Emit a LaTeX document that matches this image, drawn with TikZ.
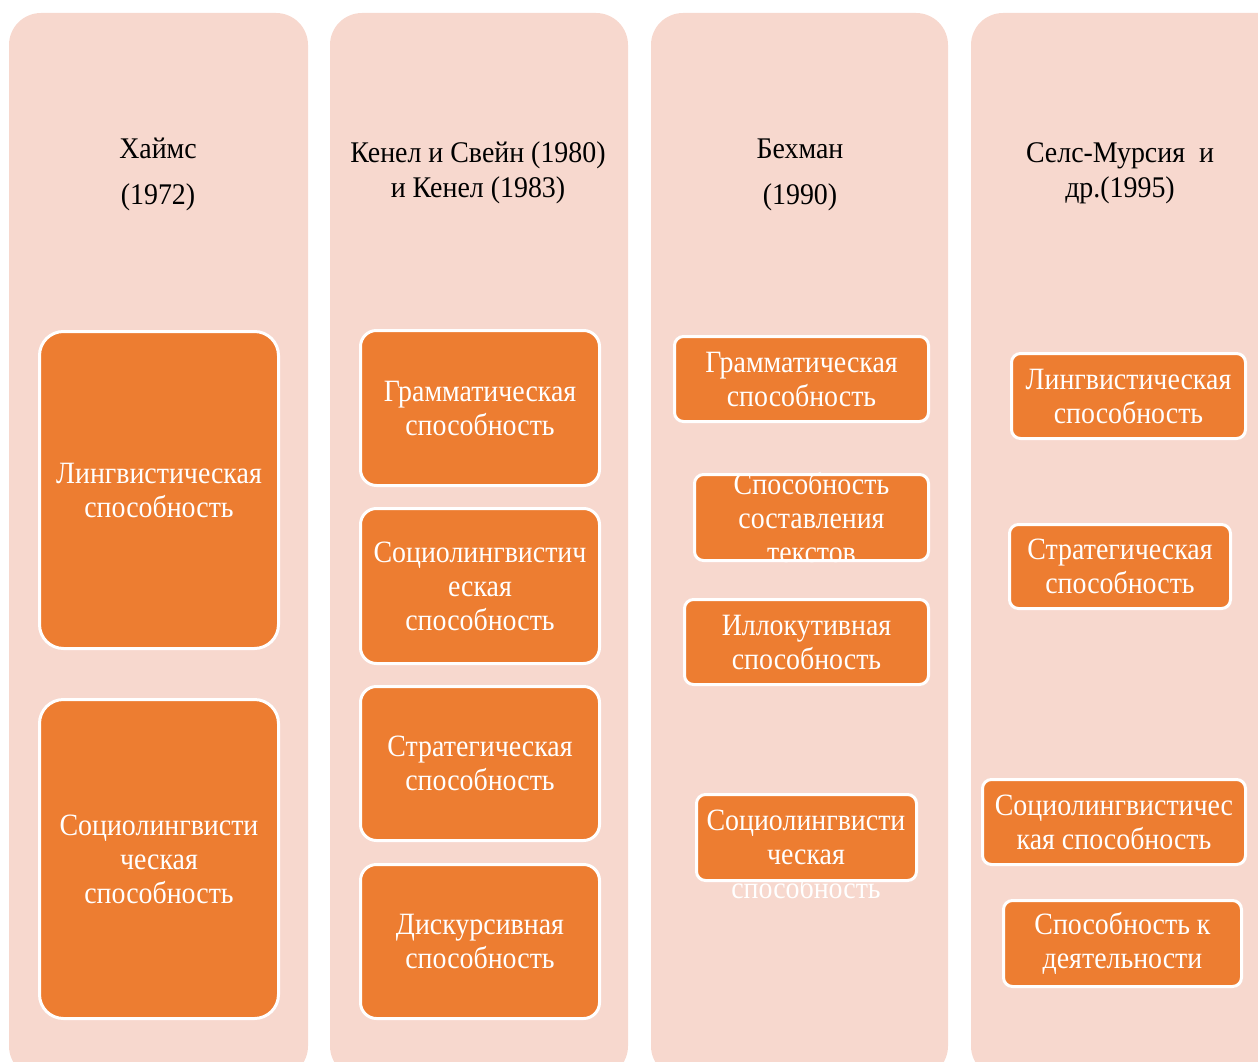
\documentclass[tikz,border=0pt]{standalone}
\usepackage{fontspec}
\setmainfont{Liberation Serif}
\newfontfamily\boxfont[FakeStretch=0.9]{Liberation Serif}
\newfontfamily\headfont[FakeStretch=0.93]{Liberation Serif}
\definecolor{colbg}{HTML}{F7D8CE}
\definecolor{boxor}{HTML}{ED7D31}
\newcommand\ob[7]{%
  \node[obox, rounded corners=#6pt, minimum width={#4pt-#2pt-3pt}, minimum height={#5pt-#3pt-3pt}] (#1) at ({(#2+#4)/2},{(#3+#5)/2}) {};}
\begin{document}
\begin{tikzpicture}[x=1pt,y=-1pt,
  colbox/.style={fill=colbg, draw=none, rounded corners=32pt},
  obox/.style={fill=boxor, draw=white, line width=3pt, inner sep=0pt, outer sep=0pt},
  otext/.style={text=white, font=\boxfont\fontsize{31}{34}\selectfont, align=center, inner sep=0pt},
  htext/.style={text=black, font=\headfont\fontsize{30}{34}\selectfont, anchor=base, inner sep=0pt}]
\useasboundingbox (0,0) rectangle (1258,1062);
\clip (0,0) rectangle (1258,1062);
% columns
\fill[colbox] (9,13) rectangle (308,1078);
\fill[colbox] (330,13) rectangle (628,1078);
\fill[colbox] (651,13) rectangle (948,1078);
\fill[colbox] (971,13) rectangle (1290,1078);
% headings
\node[htext] (h1a) at (158,158) {Хаймс};
\node[htext] (h1b) at (158,204) {(1972)};
\node[htext] (h2a) at (478,163) {Кенел и Свейн (1980)};
\node[htext] (h2b) at (478,197) {и Кенел (1983)};
\node[htext] (h3a) at (800,158) {Бехман};
\node[htext] (h3b) at (800,204) {(1990)};
\node[htext] (h4a) at (1120,163) {Селс-Мурсия\ \ и};
\node[htext] (h4b) at (1120,197) {др.(1995)};
% column 1
\ob{b11}{38}{330}{280}{650}{24}{}
\ob{b12}{38}{698}{280}{1020}{24}{}
\node[otext] (t11) at (b11.center) {Лингвистическая\\способность};
\node[otext] (t12) at (b12.center) {Социолингвисти\\ческая\\способность};
% column 2
\ob{b21}{359}{329}{601}{487}{16}{}
\ob{b22}{359}{507}{601}{665}{16}{}
\ob{b23}{359}{685}{601}{842}{16}{}
\ob{b24}{359}{863}{601}{1020}{16}{}
\node[otext] (t21) at (b21.center) {Грамматическая\\способность};
\node[otext] (t22) at (b22.center) {Социолингвистич\\еская\\способность};
\node[otext] (t23) at (b23.center) {Стратегическая\\способность};
\node[otext] (t24) at (b24.center) {Дискурсивная\\способность};
% column 3
\ob{b31}{673}{335}{930}{423}{9}{}
\ob{b32}{693}{473}{930}{562}{9}{}
\ob{b33}{683}{598}{930}{686}{9}{}
\node[otext] (t31) at (b31.center) {Грамматическая\\способность};
\node[otext] (t32) at (b32.center) {Способность\\составления\\текстов};
\node[otext] (t33) at (b33.center) {Иллокутивная\\способность};
\node[otext] (t34) at (806,854) {Социолингвисти\\ческая\\способность};
\ob{b34}{695}{793}{918}{882}{9}{}
\node[otext] (t34b) at (806,854) {Социолингвисти\\ческая\\\phantom{способность}};
% column 4
\ob{b41}{1010}{352}{1247}{440}{9}{}
\ob{b42}{1008}{523}{1232}{610}{9}{}
\ob{b43}{981}{778}{1247}{866}{9}{}
\ob{b44}{1002}{899}{1243}{988}{9}{}
\node[otext] (t41) at (b41.center) {Лингвистическая\\способность};
\node[otext] (t42) at (b42.center) {Стратегическая\\способность};
\node[otext] (t43) at (b43.center) {Социолингвистичес\\кая способность};
\node[otext] (t44) at (b44.center) {Способность к\\деятельности};
\end{tikzpicture}
\end{document}
